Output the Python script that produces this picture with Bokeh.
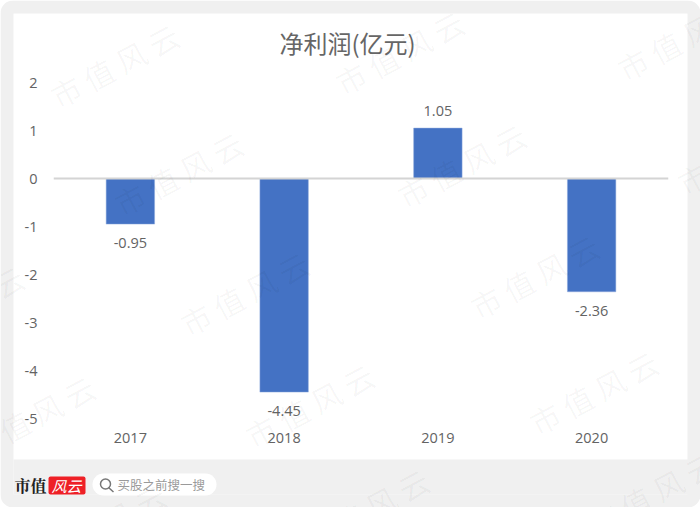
from bokeh.plotting import figure
from bokeh.models import ColumnDataSource, BoxAnnotation, Span, Title, Range1d
from bokeh.core.properties import value
from bokeh.embed import file_html
from bokeh.resources import INLINE
from math import radians

years = ["2017", "2018", "2019", "2020"]
profit = [-0.95, -4.45, 1.05, -2.36]
y_ticks = [-5, -4, -3, -2, -1, 0, 1, 2]
title_text = "净利润(亿元)"
watermark = "市  值  风  云"
brand = "市值"
brand_mark = "风云"
search_hint = "买股之前搜一搜"

W, H = 700, 507
CJK = "Noto Sans CJK SC"
LAT = "Open Sans"
TXT = "#636363"
GRAY = "#f0f0f0"

p = figure(width=W, height=H, x_range=years, y_range=(-5, 2), output_backend="svg",
           toolbar_location=None, min_border_left=53, min_border_right=32,
           min_border_top=82, min_border_bottom=89, outline_line_color=None,
           background_fill_color="#ffffff", border_fill_color="#ffffff")
p.grid.visible = False

for ax in (p.xaxis[0], p.yaxis[0]):
    ax.axis_line_color = None
    ax.major_tick_line_color = None
    ax.minor_tick_line_color = None
    ax.major_label_text_color = TXT
    ax.major_label_text_font = LAT
    ax.major_label_text_font_size = "14.5px"
p.yaxis[0].ticker = y_ticks
p.yaxis[0].major_label_overrides = {t: str(t) for t in y_ticks}
p.yaxis[0].major_label_standoff = 10
p.xaxis[0].major_label_standoff = 8

p.add_layout(Title(text=title_text, text_font=CJK, text_font_size="24px", text_font_style="normal",
                   text_color="#666666", align="left", offset=226, standoff=45), "above")

p.vbar(x=years, top=profit, bottom=0, width=0.315, fill_color="#4472C4", line_color="#8faadc", line_width=0.5)
p.add_layout(Span(location=0, dimension="width", line_color="#d4d4d4", line_width=2))

src = ColumnDataSource(dict(x=years, y=profit, t=[f"{v:.2f}" for v in profit],
                            o=[19 if v < 0 else -17 for v in profit]))
p.text(x="x", y="y", text="t", source=src, y_offset="o", text_align="center", text_baseline="middle",
       text_color=TXT, text_font=value(LAT), text_font_size="14.5px")

# transparent top layer in page pixels: grey frame, watermarks, footer
o = figure(width=W, height=H, x_range=Range1d(0, W), y_range=Range1d(H, 0), output_backend="svg",
           toolbar_location=None, x_axis_location=None, y_axis_location=None,
           min_border=0, outline_line_color=None, background_fill_color=None, border_fill_color=None)
o.grid.visible = False
o.margin = (-H, 0, 0, 0)

def box(**kw):
    o.add_layout(BoxAnnotation(level="underlay", **kw))

box(left=6.5, right=W - 6.5, top=6.5, bottom=H - 6.5, fill_alpha=0,
    line_color=GRAY, line_alpha=1, line_width=13, border_radius=6)
box(left=13, right=688, top=459, bottom=494, fill_color=GRAY, fill_alpha=1, line_color=None)
box(left=48, right=85, top=476, bottom=494, fill_color="#ee2026", fill_alpha=1, line_color=None, border_radius=2)
box(left=92, right=216, top=473, bottom=495, fill_color="#ffffff", fill_alpha=1, line_color=None, border_radius=11)
box(left=100, right=110, top=478.5, bottom=488.5, fill_alpha=0, line_color="#777777", line_alpha=1,
    line_width=1.5, border_radius=5)

centers = [(123, 60), (187, 168), (408, 47), (690, 33), (470, 160), (750, 147), (253, 288), (543, 271),
           (-32, 302), (318, 400), (602, 387), (39, 412), (373, 505), (660, 488), (110, 520)]
wm = ColumnDataSource(dict(x=[c[0] for c in centers], y=[c[1] for c in centers], t=[watermark] * len(centers)))
o.text(x="x", y="y", text="t", source=wm, text_align="center", text_baseline="middle", angle=radians(28),
       text_font=value(CJK), text_font_size="30px", text_color="#000000", text_alpha=0.04)

def lab(x, y, text, font, size, color, style="normal"):
    o.text(x=[x], y=[y], text=[text], text_baseline="middle", text_font=value(font),
           text_font_size=size, text_color=color, text_font_style=style)

lab(14, 485, brand, "Noto Serif CJK SC", "16px", "#222222", "bold")
lab(51, 485, brand_mark, CJK, "15px", "#ffffff", "italic")
o.line(x=[108, 113], y=[487, 491.5], line_color="#777777", line_width=1.5)
lab(117, 484, search_hint, CJK, "12.5px", "#9a9a9a")

open("out.html", "w").write(file_html([p, o], INLINE))
